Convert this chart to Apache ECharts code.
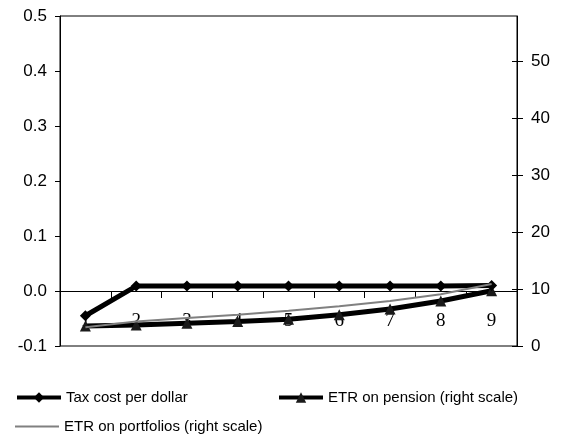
<!DOCTYPE html>
<html>
<head>
<meta charset="utf-8">
<script src="https://cdn.jsdelivr.net/npm/echarts@6/dist/echarts.min.js"></script>
<style>
  html, body { margin: 0; padding: 0; background: #fff; }
  #chart { width: 561px; height: 436px; }
</style>
</head>
<body>
<div id="chart"></div>
<script>
// data
var categories = ['1', '2', '3', '4', '5', '6', '7', '8', '9'];
var taxCost = [-0.045, 0.009, 0.009, 0.009, 0.009, 0.009, 0.009, 0.009, 0.010];   // left scale
var etrPension = [3.5, 3.7, 4.0, 4.3, 4.7, 5.5, 6.5, 7.9, 9.7];                  // right scale
var etrPortfolio = [3.3, 4.3, 4.9, 5.5, 6.2, 7.0, 7.9, 9.1, 10.9];               // right scale
var rightTicks = [0, 10, 20, 30, 40, 50];

var names = ['Tax cost per dollar', 'ETR on pension (right scale)', 'ETR on portfolios (right scale)'];

var vm = echarts.init(document.getElementById('chart'));
var sans = 'Liberation Sans, Arial, sans-serif';

var legendBase = {
  orient: 'horizontal',
  itemWidth: 44,
  itemHeight: 13,
  textStyle: { color: '#000', fontSize: 15, fontFamily: sans },
  selectedMode: false
};

option = {
  animation: false,
  backgroundColor: '#fff',
  grid: {
    left: 60, right: 44, top: 16, bottom: 90,
    show: true, borderColor: '#000', borderWidth: 1
  },
  legend: [
    Object.assign({}, legendBase, { data: [names[0]], left: 10, top: 385, lineStyle: { width: 4 } }),
    Object.assign({}, legendBase, { data: [names[1]], left: 272, top: 385, lineStyle: { width: 4 } }),
    Object.assign({}, legendBase, { data: [{ name: names[2], icon: 'rect' }], left: 10, top: 414, itemHeight: 2 })
  ],
  xAxis: {
    type: 'category',
    data: categories,
    boundaryGap: true,
    position: 'bottom',
    offset: -55,   // sits on the 0.0 line of the left scale
    axisLine: { onZero: false, lineStyle: { color: '#000', width: 1 } },
    axisTick: { show: true, length: 7, lineStyle: { color: '#000' } },
    axisLabel: { color: '#000', fontFamily: 'Liberation Serif, Times New Roman, serif', fontSize: 19, margin: 21 },
    splitLine: { show: false }
  },
  yAxis: [
    {
      type: 'value', position: 'left',
      min: -0.1, max: 0.5, interval: 0.1,
      axisLine: { show: true, lineStyle: { color: '#000' } },
      axisTick: { show: true, length: 5, lineStyle: { color: '#000' } },
      axisLabel: {
        color: '#000', fontSize: 17, fontFamily: sans, margin: 13,
        formatter: function (v) { return v.toFixed(1); }
      },
      splitLine: { show: false }
    },
    {
      type: 'value', position: 'right',
      min: 0, max: 58, interval: 10,
      axisLine: { show: true, lineStyle: { color: '#000' } },
      axisTick: { show: true, length: 6, customValues: rightTicks, lineStyle: { color: '#000' } },
      axisLabel: { color: '#000', fontSize: 17, fontFamily: sans, margin: 14, customValues: rightTicks },
      splitLine: { show: false }
    },
    {
      // inner half of the crossing ticks on the right scale
      type: 'value', position: 'right',
      min: 0, max: 58, interval: 10,
      axisLine: { show: false },
      axisTick: { show: true, inside: true, length: 5, customValues: rightTicks, lineStyle: { color: '#000' } },
      axisLabel: { show: false },
      splitLine: { show: false }
    }
  ],
  series: [
    {
      name: names[0], type: 'line', yAxisIndex: 0,
      data: taxCost,
      symbol: 'diamond', symbolSize: 11,
      itemStyle: { color: '#000' },
      lineStyle: { color: '#000', width: 5 },
      z: 4
    },
    {
      name: names[1], type: 'line', yAxisIndex: 1,
      data: etrPension,
      symbol: 'triangle', symbolSize: 11,
      itemStyle: { color: '#1a1a1a' },
      lineStyle: { color: '#000', width: 5 },
      z: 3
    },
    {
      name: names[2], type: 'line', yAxisIndex: 1,
      data: etrPortfolio,
      symbol: 'none',
      itemStyle: { color: '#808080' },
      lineStyle: { color: '#808080', width: 2 },
      z: 5
    }
  ]
};

vm.setOption(option);
</script>
</body>
</html>
